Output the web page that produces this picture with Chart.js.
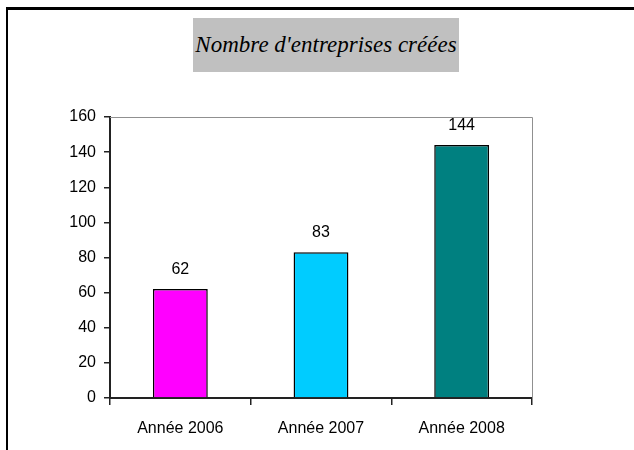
<!DOCTYPE html>
<html>
<head>
<meta charset="utf-8">
<script src="https://cdn.jsdelivr.net/npm/chart.js@4"></script>
<style>
  html, body { margin: 0; padding: 0; background: #fff; }
  #wrap { position: relative; width: 634px; height: 450px; overflow: hidden; }
  #frame { position: absolute; left: 6px; top: 7px; width: 700px; height: 500px;
           border-top: 3px solid #000; border-left: 2px solid #000; }
  #title { position: absolute; left: 193px; top: 18px; width: 266px; height: 54px;
           background: #c0c0c0; font: italic 23px "Liberation Serif", serif;
           line-height: 54px; text-align: center; color: #000; white-space: nowrap; }
  canvas { position: absolute; left: 0; top: 0; }
</style>
</head>
<body>
<div id="wrap">
  <div id="frame"></div>
  <div id="title">Nombre d'entreprises créées</div>
  <canvas id="chart" width="634" height="450"></canvas>
</div>
<script>
const categories = ['Année 2006', 'Année 2007', 'Année 2008'];
const values = [62, 83, 144];
const barColors = ['#ff00ff', '#00ccff', '#008080'];
const yTicks = [0, 20, 40, 60, 80, 100, 120, 140, 160];

const axisFont = { family: '"Liberation Sans", Arial, sans-serif', size: 16 };

// valeurs au-dessus des barres + bordure grise de la zone de tracé
const extras = {
  id: 'extras',
  beforeDatasetsDraw(chart) {
    const { ctx, chartArea: a } = chart;
    ctx.save();
    ctx.strokeStyle = '#909090';
    ctx.lineWidth = 1;
    ctx.beginPath();
    ctx.moveTo(a.left, a.top + 0.5);
    ctx.lineTo(a.right + 0.5, a.top + 0.5);
    ctx.lineTo(a.right + 0.5, a.bottom + 7);
    ctx.stroke();
    ctx.restore();
  },
  afterDatasetsDraw(chart) {
    const { ctx } = chart;
    const meta = chart.getDatasetMeta(0);
    ctx.save();
    ctx.font = `${axisFont.size}px ${axisFont.family}`;
    ctx.fillStyle = '#000';
    ctx.textAlign = 'center';
    ctx.textBaseline = 'bottom';
    meta.data.forEach((bar, i) => {
      ctx.fillText(String(values[i]), bar.x, bar.y - 12);
    });
    ctx.restore();
  }
};

new Chart(document.getElementById('chart'), {
  type: 'bar',
  data: {
    labels: categories,
    datasets: [{
      data: values,
      backgroundColor: barColors,
      borderColor: '#000',
      borderWidth: 1.5,
      borderSkipped: 'bottom',
      categoryPercentage: 0.39,
      barPercentage: 1
    }]
  },
  options: {
    responsive: false,
    animation: false,
    layout: { padding: { left: 0, right: 102, top: 117, bottom: 0 } },
    plugins: { legend: { display: false }, tooltip: { enabled: false } },
    scales: {
      x: {
        grid: { offset: true, drawOnChartArea: false, drawTicks: true, tickLength: 7, color: '#222', lineWidth: 1.5 },
        border: { color: '#222', width: 2 },
        ticks: { color: '#000', font: axisFont, padding: 14 },
        afterFit(scale) { scale.height = 52; }
      },
      y: {
        min: 0,
        max: 160,
        afterBuildTicks(scale) { scale.ticks = yTicks.map(v => ({ value: v })); },
        grid: { drawOnChartArea: false, drawTicks: true, tickLength: 6, color: '#222', lineWidth: 1.5 },
        border: { color: '#222', width: 2 },
        ticks: { color: '#000', font: axisFont, padding: 8 },
        afterFit(scale) { scale.width = 110; }
      }
    }
  },
  plugins: [extras]
});
</script>
</body>
</html>
